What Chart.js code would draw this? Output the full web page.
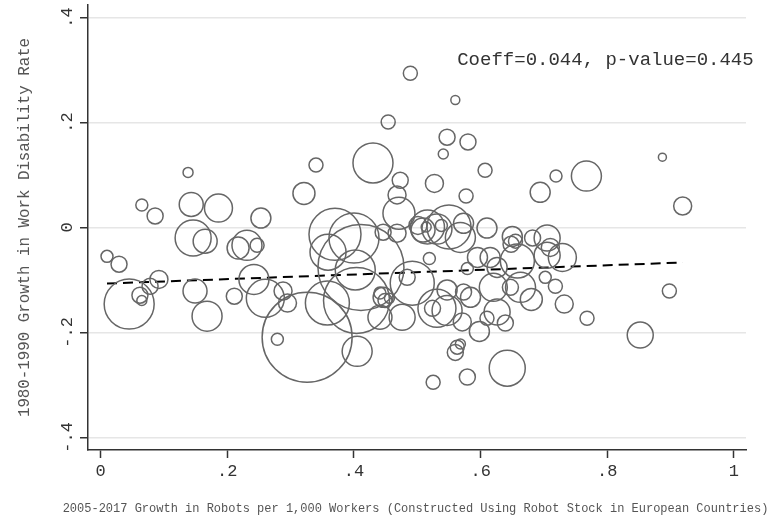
<!DOCTYPE html>
<html>
<head>
<meta charset="utf-8">
<script src="https://cdn.jsdelivr.net/npm/chart.js@4/dist/chart.umd.min.js"></script>
<style>
  html, body { margin: 0; padding: 0; background: #fff; }
  #wrap { width: 782px; height: 520px; }
</style>
</head>
<body>
<div id="wrap"><canvas id="robotChart" width="782" height="520"></canvas></div>
<script>
// Datos: crecimiento de robots (x), crecimiento de discapacidad laboral (y), peso de cada zona (área de la burbuja)
const robotsGrowth = [
  0.010, 0.029, 0.045, 0.062, 0.065, 0.078, 0.092, 0.065, 0.086, 0.138,
  0.143, 0.186, 0.146, 0.165, 0.149, 0.168, 0.211, 0.217, 0.231, 0.247,
  0.253, 0.242, 0.260, 0.288, 0.295, 0.279, 0.326, 0.340, 0.321, 0.430,
  0.473, 0.468, 0.471, 0.541, 0.527, 0.454, 0.489, 0.560, 0.547, 0.580,
  0.607, 0.767, 0.719, 0.694, 0.577, 0.610, 0.887, 0.919, 0.898, 0.852,
  0.642, 0.525, 0.579, 0.563, 0.568, 0.560, 0.405, 0.768, 0.732, 0.718,
  0.702, 0.680, 0.663, 0.647, 0.620, 0.626, 0.639, 0.610, 0.598, 0.584,
  0.571, 0.547, 0.547, 0.531, 0.573, 0.524, 0.476, 0.441, 0.446, 0.449,
  0.441, 0.456, 0.492, 0.484, 0.370, 0.400, 0.359, 0.411, 0.404, 0.358,
  0.446, 0.468, 0.509, 0.516, 0.501, 0.514, 0.550, 0.538, 0.573, 0.531,
  0.568, 0.519, 0.579, 0.595, 0.615, 0.626, 0.650, 0.655, 0.682, 0.705,
  0.710, 0.729, 0.705, 0.658, 0.648, 0.402
];
const disabilityGrowth = [
  -0.055, -0.070, -0.146, -0.129, -0.139, -0.112, -0.099, 0.043, 0.022, 0.105,
  0.044, 0.037, -0.020, -0.026, -0.121, -0.169, -0.131, -0.039, -0.034, -0.034,
  0.018, -0.099, -0.135, -0.121, -0.144, -0.213, -0.209, 0.119, 0.065, 0.123,
  0.090, 0.062, 0.027, 0.140, 0.084, 0.201, 0.294, 0.243, 0.172, 0.163,
  0.109, 0.098, 0.098, 0.067, 0.060, -0.001, 0.134, 0.041, -0.121, -0.205,
  -0.268, -0.295, -0.285, -0.228, -0.222, -0.238, -0.236, -0.173, -0.146, -0.112,
  -0.095, -0.137, -0.114, -0.114, -0.114, -0.161, -0.182, -0.173, -0.198, -0.133,
  -0.180, -0.158, -0.119, -0.154, -0.123, -0.154, -0.171, -0.171, -0.133, -0.139,
  -0.125, -0.135, -0.106, -0.095, -0.013, -0.020, -0.047, -0.076, -0.139, -0.144,
  -0.009, -0.011, -0.005, 0.001, 0.004, 0.001, 0.001, 0.004, 0.008, -0.003,
  -0.019, -0.059, -0.078, -0.057, -0.057, -0.076, -0.017, -0.026, -0.020, -0.020,
  -0.038, -0.057, -0.053, -0.064, -0.032, -0.081
];
const zoneWeight = [
  36, 64, 625, 64, 25, 64, 81, 36, 64, 25,
  144, 196, 324, 144, 144, 225, 64, 121, 225, 49,
  100, 225, 361, 81, 81, 36, 2025, 49, 121, 400,
  64, 81, 256, 25, 81, 49, 49, 20, 64, 64,
  49, 225, 36, 100, 49, 100, 16, 81, 49, 169,
  324, 49, 64, 49, 25, 64, 225, 49, 81, 49,
  36, 121, 225, 64, 196, 169, 64, 49, 100, 100,
  81, 225, 100, 361, 64, 64, 169, 144, 100, 49,
  36, 25, 484, 64, 676, 625, 324, 1849, 1089, 484,
  64, 81, 144, 289, 81, 25, 484, 36, 100, 225,
  225, 36, 36, 100, 100, 100, 100, 49, 64, 169,
  81, 196, 169, 289, 64, 400
];

// Recta de regresión (pendiente e intercepto)
const fitSlope = 0.044;
const fitIntercept = -0.1072;
const fitLabel = "Coeff=0.044, p-value=0.445";

// Marcas de los ejes
const xTicks = [0, 0.2, 0.4, 0.6, 0.8, 1];
const xTickLabels = ["0", ".2", ".4", ".6", ".8", "1"];
const yTicks = [-0.4, -0.2, 0, 0.2, 0.4];
const yTickLabels = ["-.4", "-.2", "0", ".2", ".4"];

const xTitle = "2005-2017 Growth in Robots per 1,000 Workers (Constructed Using Robot Stock in European Countries)";
const yTitle = "1980-1990 Growth in Work Disability Rate";

const MONO = "'Liberation Mono', 'DejaVu Sans Mono', monospace";

// Etiquetas del eje y giradas, títulos y texto del coeficiente
const textosPlugin = {
    id: "textos",
    afterDraw(chart) {
        const ctx = chart.ctx;
        const ys = chart.scales.y;
        const xs = chart.scales.x;
        const area = chart.chartArea;
        ctx.save();
        ctx.fillStyle = "#333";
        ctx.font = "17px " + MONO;
        ctx.textAlign = "center";
        ctx.textBaseline = "alphabetic";
        yTicks.forEach((v, i) => {
            ctx.save();
            ctx.translate(72, ys.getPixelForValue(v));
            ctx.rotate(-Math.PI / 2);
            ctx.fillText(yTickLabels[i], 0, 0);
            ctx.restore();
        });

        // título eje y
        ctx.fillStyle = "#555";
        ctx.font = "15.8px " + MONO;
        ctx.textBaseline = "middle";
        ctx.save();
        ctx.translate(25, (area.top + area.bottom) / 2);
        ctx.rotate(-Math.PI / 2);
        ctx.fillText(yTitle, 0, 0);
        ctx.restore();

        // título eje x
        ctx.font = "12px " + MONO;
        ctx.fillText(xTitle, 415.5, 509);

        // coeficiente
        ctx.fillStyle = "#333";
        ctx.font = "19px " + MONO;
        ctx.textAlign = "left";
        ctx.fillText(fitLabel, xs.getPixelForValue(0.563), ys.getPixelForValue(0.319));
        ctx.restore();
    },
};

document.addEventListener("DOMContentLoaded", () => {
    const ctx = document.getElementById("robotChart").getContext("2d");

    const bubbles = robotsGrowth.map((x, i) => ({
        x: x,
        y: disabilityGrowth[i],
        r: Math.sqrt(zoneWeight[i]),
    }));
    const xMin = Math.min(...robotsGrowth);
    const xMax = Math.max(...robotsGrowth);
    const fitLine = [
        { x: xMin, y: fitIntercept + fitSlope * xMin },
        { x: xMax, y: fitIntercept + fitSlope * xMax },
    ];

    new Chart(ctx, {
        type: "bubble",
        data: {
            datasets: [
                {
                    label: "Zonas",
                    data: bubbles,
                    backgroundColor: "rgba(0,0,0,0)",
                    borderColor: "#666",
                    borderWidth: 1.5,
                    hoverRadius: 0,
                },
                {
                    type: "line",
                    label: "Ajuste",
                    data: fitLine,
                    borderColor: "#000",
                    borderWidth: 2,
                    borderDash: [10, 6],
                    pointRadius: 0,
                    fill: false,
                },
            ],
        },
        options: {
            responsive: false,
            animation: false,
            events: [],
            layout: { autoPadding: false, padding: { top: 5, right: 36, left: 0, bottom: 0 } },
            plugins: {
                legend: { display: false },
                tooltip: { enabled: false },
            },
            scales: {
                x: {
                    type: "linear",
                    min: -0.02,
                    max: 1.019,
                    afterBuildTicks: (s) => { s.ticks = xTicks.map((v) => ({ value: v })); },
                    afterFit: (s) => { s.height = 70; },
                    grid: {
                        drawOnChartArea: false,
                        drawTicks: true,
                        tickLength: 8,
                        tickColor: "#333",
                        tickWidth: 1.5,
                    },
                    border: { color: "#333", width: 1.5 },
                    ticks: {
                        autoSkip: false,
                        maxRotation: 0,
                        padding: 3,
                        color: "#333",
                        font: { family: MONO, size: 17 },
                        callback: (v) => {
                            const i = xTicks.findIndex((t) => Math.abs(t - v) < 1e-9);
                            return i >= 0 ? xTickLabels[i] : "";
                        },
                    },
                    title: { display: false },
                },
                y: {
                    type: "linear",
                    min: -0.424,
                    max: 0.424,
                    afterBuildTicks: (s) => { s.ticks = yTicks.map((v) => ({ value: v })); },
                    afterFit: (s) => { s.width = 88; },
                    grid: {
                        color: "#e6e6e6",
                        lineWidth: 1.5,
                        drawTicks: true,
                        tickLength: 8,
                        tickColor: "#333",
                        tickWidth: 1.5,
                    },
                    border: { color: "#333", width: 1.5 },
                    ticks: { display: false },
                    title: { display: false },
                },
            },
        },
        plugins: [textosPlugin],
    });
});
</script>
</body>
</html>
